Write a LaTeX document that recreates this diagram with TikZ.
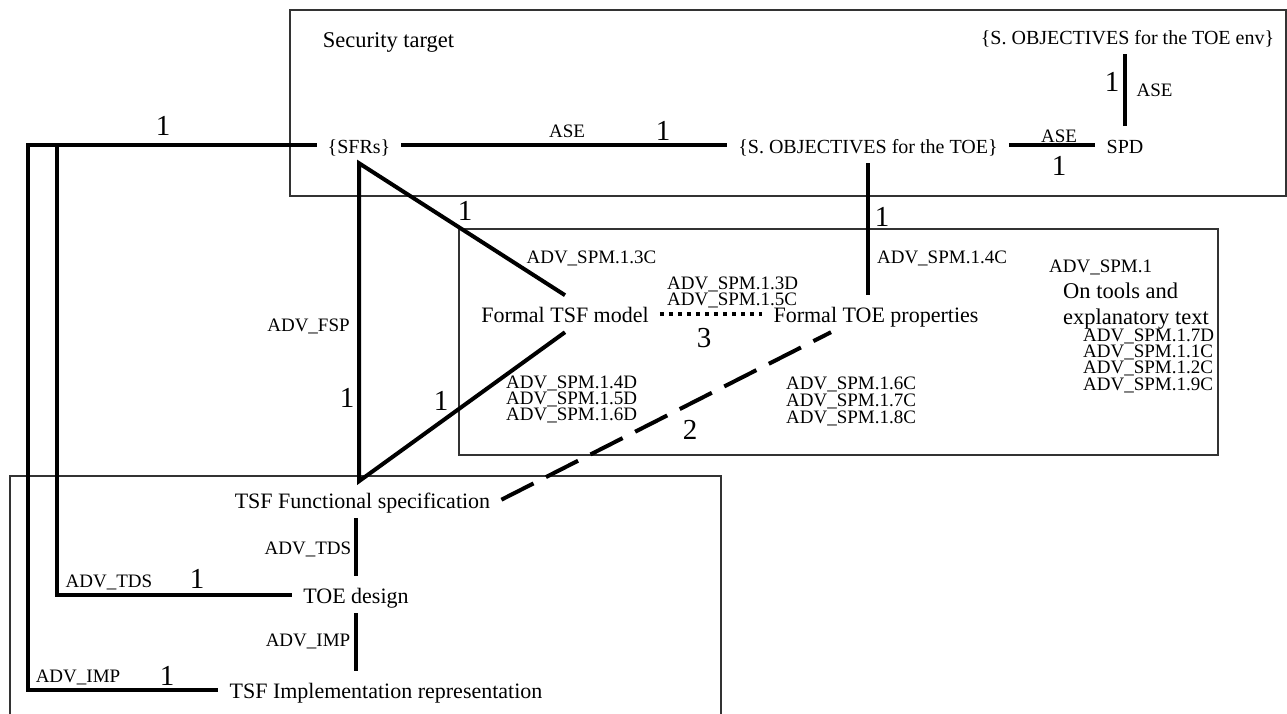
\documentclass[tikz,border=0pt]{standalone}
\usepackage{fontspec}
\setmainfont{Liberation Serif}
\usetikzlibrary{calc}
\begin{document}
\begin{tikzpicture}[x=1pt,y=-1pt,
  conn/.style={line width=4pt},
  box/.style={line width=2pt, draw=black!80},
  nm/.style={font=\fontsize{22}{26}\selectfont, anchor=base, text height=16.6pt, text depth=0pt, inner xsep=11pt, inner ysep=10pt},
  nmb/.style={nm, font=\fontsize{20}{24}\selectfont},
  txt/.style={font=\fontsize{22.5}{26}\selectfont, anchor=base west, inner sep=0pt},
  lbl/.style={font=\fontsize{19}{22}\selectfont, anchor=base, inner sep=0pt},
  num/.style={font=\fontsize{29}{32}\selectfont, anchor=base, inner sep=0pt},
  stk/.style={font=\fontsize{19}{#1}\selectfont, align=left, anchor=base west, inner sep=0pt},
]
\useasboundingbox (0,0) rectangle (1287,713);

% boxes
\draw[box] (290,10) rectangle (1285.5,195.5);
\draw[box] (459,229) rectangle (1218,455);
\draw[box] (10,714) -- (10,476) -- (721,476) -- (721,714);

% main nodes
\node[txt, anchor=base] (sec) at (388.5,47) {Security target};
\node[nmb] (sfrs) at (359,153) {\{SFRs\}};
\node[nmb] (sobj) at (868,153) {\{S. OBJECTIVES for the TOE\}};
\node[nmb] (spd) at (1125,153) {SPD};
\node[nmb] (env) at (1127.5,44) {\{S. OBJECTIVES for the TOE env\}};
\node[nm] (ftsf) at (565,322) {Formal TSF model};
\node[nm] (ftoe) at (876,322) {Formal TOE properties};
\node[nm] (fs) at (362.5,508) {TSF Functional specification};
\node[nm] (tds) at (356,603) {TOE design};
\node[nm] (impl) at (386,698) {TSF Implementation representation};

% right-hand text
\node[lbl, anchor=base west] (spm) at (1049,272) {ADV\_SPM.1};
\node[txt] (tools) at (1063,298) {On tools and};
\node[txt] (expl) at (1063,324) {explanatory text};

% labels
\node[lbl] (ase1) at (567,137) {ASE};
\node[lbl] (ase2) at (1059,142) {ASE};
\node[lbl] (ase3) at (1154.5,96) {ASE};
\node[lbl] (l13c) at (591.5,263) {ADV\_SPM.1.3C};
\node[lbl] (l14c) at (942,263) {ADV\_SPM.1.4C};
\node[lbl] (fsp) at (308.5,331) {ADV\_FSP};
\node[lbl] (tdsv) at (308,554) {ADV\_TDS};
\node[lbl] (impv) at (308,646) {ADV\_IMP};
\node[lbl] (tdsl) at (109,587) {ADV\_TDS};
\node[lbl] (impl2) at (78,682) {ADV\_IMP};

% stacked labels (base anchor = last line)
\node[stk=16] (s1) at (667,305) {ADV\_SPM.1.3D\\ADV\_SPM.1.5C};
\node[stk=16] (s2) at (506,420) {ADV\_SPM.1.4D\\ADV\_SPM.1.5D\\ADV\_SPM.1.6D};
\node[stk=17] (s3) at (786,423) {ADV\_SPM.1.6C\\ADV\_SPM.1.7C\\ADV\_SPM.1.8C};
\node[stk=14.7] (s4) at (1083,390) {ADV\_SPM.1.7D\\ADV\_SPM.1.1C\\ADV\_SPM.1.2C\\ADV\_SPM.1.9C};

% multiplicities
\node[num] (n1) at (163,135) {1};
\node[num] (n2) at (663,140) {1};
\node[num] (n3) at (1059,175) {1};
\node[num] (n4) at (1112,91) {1};
\node[num] (n5) at (882,226) {1};
\node[num] (n6) at (465,220) {1};
\node[num] (n7) at (347,407) {1};
\node[num] (n8) at (441,410) {1};
\node[num] (n9) at (704,347) {3};
\node[num] (n10) at (690,439) {2};
\node[num] (n11) at (197,588) {1};
\node[num] (n12) at (167,685) {1};

% connectors
\coordinate (cA) at (28,0);
\coordinate (cB) at (57,0);
\coordinate (apex) at (sfrs.south |- fs.north);
\draw[conn] (sfrs.west) -| (cA |- impl.west) -- (impl.west);
\draw[conn] (sfrs.west) -| (cB |- tds.west) -- (tds.west);
\draw[conn] (sfrs.east) -- (sobj.west);
\draw[conn] (sobj.east) -- (spd.west);
\draw[conn] (spd.north) -- (spd.north |- env.south);
\draw[conn] (sobj.south) -- (sobj.south |- ftoe.north);
\draw[conn] (ftsf.north) -- (sfrs.south) -- (apex) -- (ftsf.south);
\draw[conn] (tds.north |- fs.south) -- (tds.north);
\draw[conn] (tds.south) -- (tds.south |- impl.north);
\draw[conn, dash pattern=on 4pt off 5pt] (ftsf.east) -- (ftoe.west);
\draw[conn, dash pattern=on 36pt off 14pt] (fs.east) -- ($(ftoe.south)+(-45,0)$);
\end{tikzpicture}
\end{document}
